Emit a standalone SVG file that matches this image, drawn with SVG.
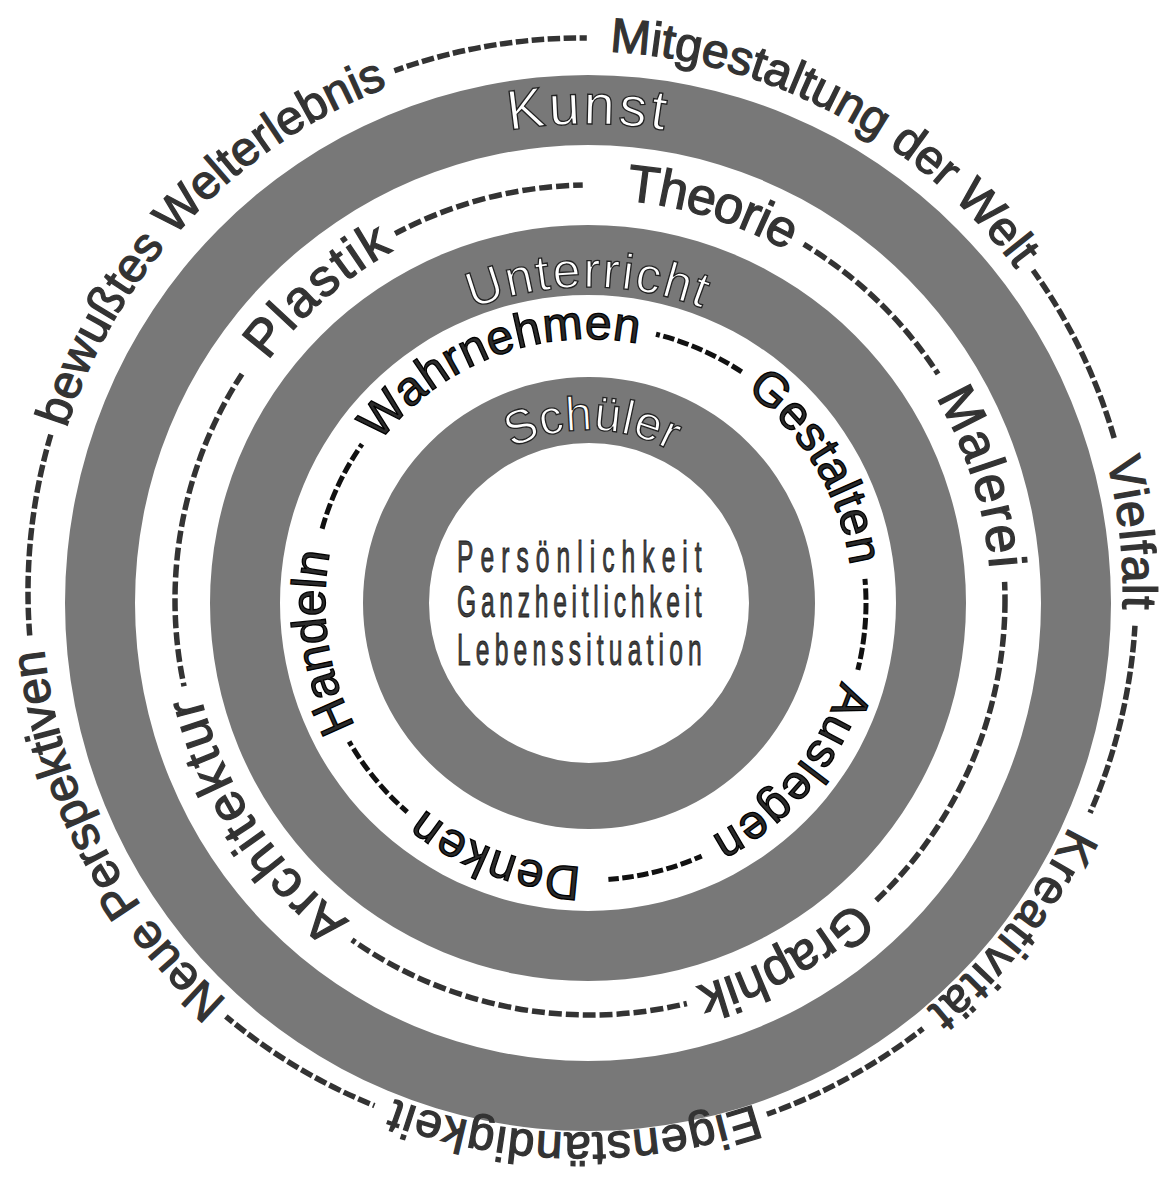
<svg xmlns="http://www.w3.org/2000/svg" width="1165" height="1188" viewBox="0 0 1165 1188">
  <style>
    .ring { fill: #787878; fill-rule: evenodd; }
    .txt { font-family: "Liberation Sans", Arial, sans-serif; }
    .outer { font-size: 48px; fill: #333; stroke: #333; stroke-width: 1.3px; }
    .middle { font-size: 52px; fill: #333; stroke: #333; stroke-width: 1.3px; }
    .inner { font-size: 48px; fill: #2a2a2a; stroke: #000; stroke-width: 1.3px; letter-spacing: 0.5px; }
    .ringlabel { fill: #fff; stroke: #222; stroke-width: 1.3px; }
    .center { font-size: 44px; fill: #404040; stroke: #1e1e1e; stroke-width: 0.9px; }
    .dash { fill: none; stroke: #333; stroke-width: 5.5px; }
    .dash-in { fill: none; stroke: #111; stroke-width: 5px; }
    .keep { fill: none; stroke: #fff; stroke-width: 24px; }
  </style>
  <defs>
    <!-- baseline circles, drawn clockwise from the bottom so 50% sits at the top -->
    <path id="p-outer" d="M582,1133 A541,541 0 1,1 582,51 A541,541 0 1,1 582,1133"/>
    <path id="p-middle" d="M590,1001 A401,401 0 1,1 590,199 A401,401 0 1,1 590,1001"/>
    <path id="p-inner" d="M589,867 A264,264 0 1,1 589,339 A264,264 0 1,1 589,867"/>
    <path id="p-kunst" d="M588,1082 A479,479 0 1,1 588,124 A479,479 0 1,1 588,1082"/>
    <path id="p-unterricht" d="M588,919 A316,316 0 1,1 588,287 A316,316 0 1,1 588,919"/>
    <path id="p-schueler" d="M589,776 A173,173 0 1,1 589,430 A173,173 0 1,1 589,776"/>

    <!-- arc ranges (in degrees, via pathLength) where the dashed separators are visible -->
    <mask id="m-outer" maskUnits="userSpaceOnUse" x="0" y="0" width="1165" height="1188">
      <g class="keep">
        <circle cx="582" cy="592" r="554" pathLength="360" stroke-dasharray="20.3 400" transform="rotate(-109.8 582 592)"/>
        <circle cx="582" cy="592" r="554" pathLength="360" stroke-dasharray="19.5 400" transform="rotate(-35.5 582 592)"/>
        <circle cx="582" cy="592" r="554" pathLength="360" stroke-dasharray="20 400" transform="rotate(3.5 582 592)"/>
        <circle cx="582" cy="592" r="554" pathLength="360" stroke-dasharray="18.5 400" transform="rotate(52 582 592)"/>
        <circle cx="582" cy="592" r="554" pathLength="360" stroke-dasharray="18 400" transform="rotate(112 582 592)"/>
        <circle cx="582" cy="592" r="554" pathLength="360" stroke-dasharray="21 400" transform="rotate(175.5 582 592)"/>
      </g>
    </mask>
    <mask id="m-middle" maskUnits="userSpaceOnUse" x="0" y="0" width="1165" height="1188">
      <g class="keep">
        <circle cx="590" cy="600" r="415" pathLength="360" stroke-dasharray="27 400" transform="rotate(-118 590 600)"/>
        <circle cx="590" cy="600" r="415" pathLength="360" stroke-dasharray="26 400" transform="rotate(-59 590 600)"/>
        <circle cx="590" cy="600" r="415" pathLength="360" stroke-dasharray="49 400" transform="rotate(-2.5 590 600)"/>
        <circle cx="590" cy="600" r="415" pathLength="360" stroke-dasharray="48.5 400" transform="rotate(76.5 590 600)"/>
        <circle cx="590" cy="600" r="415" pathLength="360" stroke-dasharray="45 400" transform="rotate(168 590 600)"/>
      </g>
    </mask>
    <mask id="m-inner" maskUnits="userSpaceOnUse" x="0" y="0" width="1165" height="1188">
      <g class="keep">
        <circle cx="589" cy="603" r="277" pathLength="360" stroke-dasharray="20 400" transform="rotate(-76 589 603)"/>
        <circle cx="589" cy="603" r="277" pathLength="360" stroke-dasharray="19 400" transform="rotate(-5 589 603)"/>
        <circle cx="589" cy="603" r="277" pathLength="360" stroke-dasharray="20 400" transform="rotate(66 589 603)"/>
        <circle cx="589" cy="603" r="277" pathLength="360" stroke-dasharray="19 400" transform="rotate(131 589 603)"/>
        <circle cx="589" cy="603" r="277" pathLength="360" stroke-dasharray="20 400" transform="rotate(195 589 603)"/>
      </g>
    </mask>
  </defs>

  <rect width="1165" height="1188" fill="#fff"/>

  <!-- the three grey bands -->
  <g id="ring-kunst">
    <path class="ring" d="M65,603 a523,528 0 1,0 1046,0 a523,528 0 1,0 -1046,0 Z M135,603 a453,458 0 1,0 906,0 a453,458 0 1,0 -906,0 Z"/>
    <text class="txt ringlabel" font-size="56" letter-spacing="3" text-anchor="middle"><textPath href="#p-kunst" startOffset="50%">Kunst</textPath></text>
  </g>
  <g id="ring-unterricht">
    <path class="ring" d="M210,603 a378,378 0 1,0 756,0 a378,378 0 1,0 -756,0 Z M280,603 a308,308 0 1,0 616,0 a308,308 0 1,0 -616,0 Z"/>
    <text class="txt ringlabel" font-size="50" letter-spacing="2" text-anchor="middle"><textPath href="#p-unterricht" startOffset="50%">Unterricht</textPath></text>
  </g>
  <g id="ring-schueler">
    <path class="ring" d="M363,603 a226,226 0 1,0 452,0 a226,226 0 1,0 -452,0 Z M429,603 a160,160 0 1,0 320,0 a160,160 0 1,0 -320,0 Z"/>
    <text class="txt ringlabel" font-size="48" letter-spacing="0.5" text-anchor="middle" transform="rotate(1 589 603)"><textPath href="#p-schueler" startOffset="50%">Schüler</textPath></text>
  </g>

  <!-- dashed separators between the labels of each circle -->
  <g id="connectors">
    <circle class="dash" cx="582" cy="592" r="554" stroke-dasharray="12.5 3.5" mask="url(#m-outer)"/>
    <circle class="dash" cx="590" cy="600" r="415" stroke-dasharray="13 4" mask="url(#m-middle)"/>
    <circle class="dash-in" cx="589" cy="603" r="277" stroke-dasharray="11.5 3.5" mask="url(#m-inner)"/>
  </g>

  <!-- outer circle: aims of art -->
  <g id="outer-labels" class="txt outer" text-anchor="middle">
    <text id="mitgestaltung" transform="rotate(28.15 582 592)"><textPath href="#p-outer" startOffset="50%">Mitgestaltung der Welt</textPath></text>
    <text id="vielfalt" letter-spacing="1" transform="rotate(83.9 582 592)"><textPath href="#p-outer" startOffset="50%">Vielfalt</textPath></text>
    <text id="kreativitaet" letter-spacing="2" transform="rotate(128.15 582 592)"><textPath href="#p-outer" startOffset="50%">Kreativität</textPath></text>
    <text id="eigenstaendigkeit" letter-spacing="1" transform="rotate(180.85 582 592)"><textPath href="#p-outer" startOffset="50%">Eigenständigkeit</textPath></text>
    <text id="perspektiven" transform="rotate(242.45 582 592)"><textPath href="#p-outer" startOffset="50%">Neue Perspektiven</textPath></text>
    <text id="welterlebnis" transform="rotate(-46.7 582 592)"><textPath href="#p-outer" startOffset="50%">bewußtes Welterlebnis</textPath></text>
  </g>

  <!-- middle circle: fields of art -->
  <g id="middle-labels" class="txt middle" text-anchor="middle">
    <text id="theorie" letter-spacing="-1" transform="rotate(17.2 590 600)"><textPath href="#p-middle" startOffset="50%">Theorie</textPath></text>
    <text id="malerei" letter-spacing="1.8" transform="rotate(72.7 590 600)"><textPath href="#p-middle" startOffset="50%">Malerei</textPath></text>
    <text id="graphik" transform="rotate(151.6 590 600)"><textPath href="#p-middle" startOffset="50%">Graphik</textPath></text>
    <text id="architektur" letter-spacing="2.6" transform="rotate(236.7 590 600)"><textPath href="#p-middle" startOffset="50%">Architektur</textPath></text>
    <text id="plastik" letter-spacing="2.5" transform="rotate(-41.25 590 600)"><textPath href="#p-middle" startOffset="50%">Plastik</textPath></text>
  </g>

  <!-- inner circle: activities in class -->
  <g id="inner-labels" class="txt inner" text-anchor="middle">
    <text id="wahrnehmen" transform="rotate(-20.8 589 603)"><textPath href="#p-inner" startOffset="50%">Wahrnehmen</textPath></text>
    <text id="gestalten" transform="rotate(59.2 589 603)"><textPath href="#p-inner" startOffset="50%">Gestalten</textPath></text>
    <text id="auslegen" letter-spacing="1.2" transform="rotate(129.95 589 603)"><textPath href="#p-inner" startOffset="50%">Auslegen</textPath></text>
    <text id="denken" letter-spacing="1" transform="rotate(200.25 589 603)"><textPath href="#p-inner" startOffset="50%">Denken</textPath></text>
    <text id="handeln" letter-spacing="0" transform="rotate(261.65 589 603)"><textPath href="#p-inner" startOffset="50%">Handeln</textPath></text>
  </g>

  <!-- core: the pupil -->
  <g id="core" class="txt center">
    <g transform="translate(457 572) scale(0.56 1)"><text x="0" y="0" textLength="437" lengthAdjust="spacing">Persönlichkeit</text></g>
    <g transform="translate(457 617) scale(0.56 1)"><text x="0" y="0" textLength="437" lengthAdjust="spacing">Ganzheitlichkeit</text></g>
    <g transform="translate(457 665) scale(0.56 1)"><text x="0" y="0" textLength="437" lengthAdjust="spacing">Lebenssituation</text></g>
  </g>
</svg>
